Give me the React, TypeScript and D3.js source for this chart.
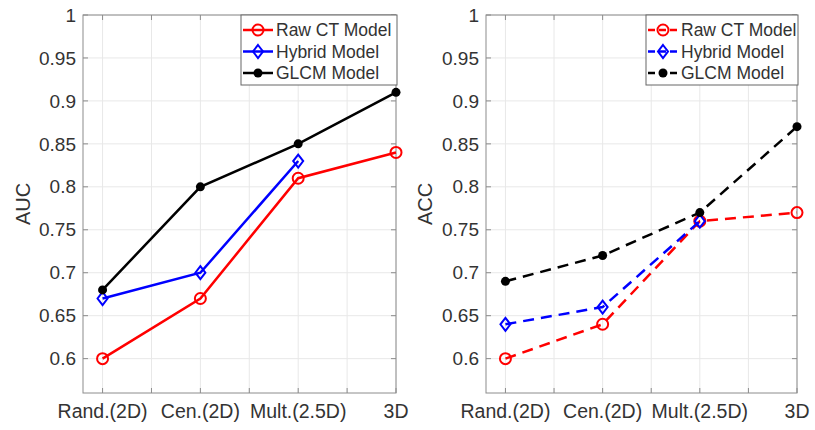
import * as d3 from 'd3';
import React, { useEffect, useRef } from 'react';

const categories = ['Rand.(2D)', 'Cen.(2D)', 'Mult.(2.5D)', '3D'];
const seriesNames = ['Raw CT Model', 'Hybrid Model', 'GLCM Model'];
const seriesColors = ['#ff0000', '#0000ff', '#000000'];

const aucRaw = [0.6, 0.67, 0.81, 0.84];
const aucHybrid = [0.67, 0.7, 0.83];
const aucGlcm = [0.68, 0.8, 0.85, 0.91];

const accRaw = [0.6, 0.64, 0.76, 0.77];
const accHybrid = [0.64, 0.66, 0.76];
const accGlcm = [0.69, 0.72, 0.77, 0.87];

const yTicks = [0.6, 0.65, 0.7, 0.75, 0.8, 0.85, 0.9, 0.95, 1];
const yTickLabels = ['0.6', '0.65', '0.7', '0.75', '0.8', '0.85', '0.9', '0.95', '1'];
const xGridTicks = [1, 1.5, 2, 2.5, 3, 3.5, 4];

const FONT = '"Liberation Sans", Arial, sans-serif';
const AXIS = '#8c8c8c';
const TEXT = '#333333';

type PanelProps = {
  left: number;
  right: number;
  top: number;
  bottom: number;
  yLabel: string;
  yLabelX: number;
  series: number[][];
  dashed: boolean;
  legendX: number;
  legendW: number;
};

const drawPanel = (
  svg: d3.Selection<SVGSVGElement, unknown, null, undefined>,
  p: PanelProps,
) => {
  const x = d3.scaleLinear().domain([0.8, 4]).range([p.left, p.right]);
  const y = d3.scaleLinear().domain([0.56, 1]).range([p.bottom, p.top]);
  const g = svg.append('g');

  // background + grid
  g.append('rect')
    .attr('x', p.left)
    .attr('y', p.top)
    .attr('width', p.right - p.left)
    .attr('height', p.bottom - p.top)
    .attr('fill', '#fff');

  g.selectAll('.gx')
    .data(xGridTicks)
    .enter()
    .append('line')
    .attr('x1', (d) => x(d))
    .attr('x2', (d) => x(d))
    .attr('y1', p.top)
    .attr('y2', p.bottom)
    .attr('stroke', '#e8e8e8')
    .attr('stroke-width', 1);

  g.selectAll('.gy')
    .data(yTicks)
    .enter()
    .append('line')
    .attr('x1', p.left)
    .attr('x2', p.right)
    .attr('y1', (d) => y(d))
    .attr('y2', (d) => y(d))
    .attr('stroke', '#e8e8e8')
    .attr('stroke-width', 1);

  // tick marks (inside, on all four sides)
  const tk = 5;
  xGridTicks.forEach((t) => {
    g.append('line')
      .attr('x1', x(t)).attr('x2', x(t))
      .attr('y1', p.bottom).attr('y2', p.bottom - tk)
      .attr('stroke', AXIS);
    g.append('line')
      .attr('x1', x(t)).attr('x2', x(t))
      .attr('y1', p.top).attr('y2', p.top + tk)
      .attr('stroke', AXIS);
  });
  yTicks.forEach((t) => {
    g.append('line')
      .attr('x1', p.left).attr('x2', p.left + tk)
      .attr('y1', y(t)).attr('y2', y(t))
      .attr('stroke', AXIS);
    g.append('line')
      .attr('x1', p.right).attr('x2', p.right - tk)
      .attr('y1', y(t)).attr('y2', y(t))
      .attr('stroke', AXIS);
  });

  g.append('rect')
    .attr('x', p.left)
    .attr('y', p.top)
    .attr('width', p.right - p.left)
    .attr('height', p.bottom - p.top)
    .attr('fill', 'none')
    .attr('stroke', AXIS)
    .attr('stroke-width', 1);

  // tick labels
  g.selectAll('.yl')
    .data(yTicks)
    .enter()
    .append('text')
    .attr('x', p.left - 7)
    .attr('y', (d) => y(d))
    .attr('dy', '0.35em')
    .attr('text-anchor', 'end')
    .attr('font-family', FONT)
    .attr('font-size', 19)
    .attr('fill', TEXT)
    .text((d, i) => yTickLabels[i]);

  g.selectAll('.xl')
    .data(categories)
    .enter()
    .append('text')
    .attr('x', (d, i) => x(i + 1))
    .attr('y', p.bottom + 25)
    .attr('text-anchor', 'middle')
    .attr('font-family', FONT)
    .attr('font-size', 19.5)
    .attr('fill', TEXT)
    .text((d) => d);

  g.append('text')
    .attr('transform', `translate(${p.yLabelX},${(p.top + p.bottom) / 2}) rotate(-90)`)
    .attr('text-anchor', 'middle')
    .attr('font-family', FONT)
    .attr('font-size', 20)
    .attr('fill', TEXT)
    .text(p.yLabel);

  const line = d3
    .line<number>()
    .x((d, i) => x(i + 1))
    .y((d) => y(d));

  const dash = p.dashed ? '11,7' : null;

  const marker = (
    sel: d3.Selection<SVGGElement, unknown, null, undefined>,
    k: number,
    cx: number,
    cy: number,
  ) => {
    const c = seriesColors[k];
    if (k === 0) {
      sel.append('circle')
        .attr('cx', cx).attr('cy', cy).attr('r', 5.5)
        .attr('fill', 'none').attr('stroke', c).attr('stroke-width', 2);
    } else if (k === 1) {
      sel.append('path')
        .attr('d', `M${cx},${cy - 6.5}L${cx + 5},${cy}L${cx},${cy + 6.5}L${cx - 5},${cy}Z`)
        .attr('fill', 'none').attr('stroke', c).attr('stroke-width', 2);
    } else {
      sel.append('circle')
        .attr('cx', cx).attr('cy', cy).attr('r', 4.5)
        .attr('fill', c);
    }
  };

  p.series.forEach((vals, k) => {
    const sg = g.append('g') as d3.Selection<SVGGElement, unknown, null, undefined>;
    sg.append('path')
      .attr('d', line(vals))
      .attr('fill', 'none')
      .attr('stroke', seriesColors[k])
      .attr('stroke-width', 2.5)
      .attr('stroke-dasharray', dash);
    vals.forEach((v, i) => marker(sg, k, x(i + 1), y(v)));
  });

  // legend
  const lx = p.legendX;
  const ly = p.top;
  const lg = g.append('g') as d3.Selection<SVGGElement, unknown, null, undefined>;
  lg.append('rect')
    .attr('x', lx)
    .attr('y', ly)
    .attr('width', p.legendW)
    .attr('height', 70)
    .attr('fill', '#fff')
    .attr('stroke', '#666')
    .attr('stroke-width', 1);
  seriesNames.forEach((name, k) => {
    const ry = ly + 15 + k * 21.5;
    lg.append('line')
      .attr('x1', lx + 2)
      .attr('x2', lx + 32)
      .attr('y1', ry)
      .attr('y2', ry)
      .attr('stroke', seriesColors[k])
      .attr('stroke-width', 2.5)
      .attr('stroke-dasharray', p.dashed ? '7,4' : null);
    marker(lg, k, lx + 17, ry);
    lg.append('text')
      .attr('x', lx + 35)
      .attr('y', ry)
      .attr('dy', '0.35em')
      .attr('font-family', FONT)
      .attr('font-size', 17.5)
      .attr('fill', TEXT)
      .text(name);
  });
};

const Charts: React.FC = () => {
  const svgRef = useRef<SVGSVGElement | null>(null);

  useEffect(() => {
    if (!svgRef.current) return;
    const svg = d3.select(svgRef.current);
    svg.selectAll('*').remove();

    drawPanel(svg, {
      left: 83,
      right: 396,
      top: 15,
      bottom: 393,
      yLabel: 'AUC',
      yLabelX: 30,
      series: [aucRaw, aucHybrid, aucGlcm],
      dashed: false,
      legendX: 241,
      legendW: 156,
    });

    drawPanel(svg, {
      left: 486,
      right: 797,
      top: 15,
      bottom: 393,
      yLabel: 'ACC',
      yLabelX: 432,
      series: [accRaw, accHybrid, accGlcm],
      dashed: true,
      legendX: 646,
      legendW: 152,
    });
  }, []);

  return (
    <svg ref={svgRef} width={815} height={430} style={{ display: 'block' }}></svg>
  );
};

export default function App() {
  return (
    <div style={{ position: 'absolute', left: 0, top: 0, width: 815, height: 430, background: '#fff' }}>
      <Charts />
    </div>
  );
}
